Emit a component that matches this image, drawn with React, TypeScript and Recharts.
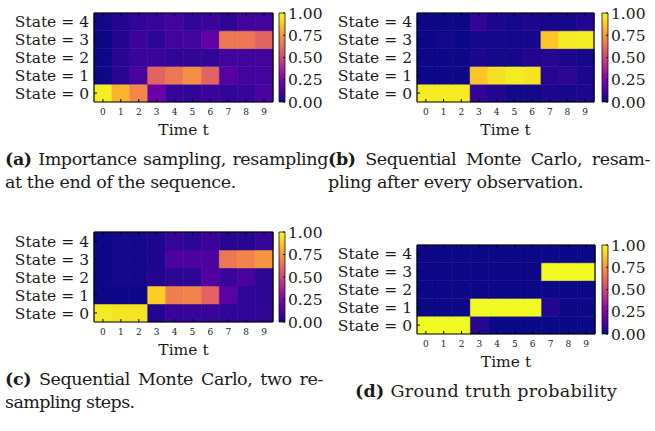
import React from 'react';
import { BarChart, Bar, Cell, XAxis, YAxis } from 'recharts';

// Axis categories and tick labels
const timeSteps = ['0', '1', '2', '3', '4', '5', '6', '7', '8', '9'];
const stateLabels = ['State = 0', 'State = 1', 'State = 2', 'State = 3', 'State = 4'];
const stateTicks = [0.5, 1.5, 2.5, 3.5, 4.5];
const colorbarTicks = [0, 0.25, 0.5, 0.75, 1];

// Posterior probability per cell. Rows are state 0..4, columns are t = 0..9.
const importanceProbs = [
  [0.98, 0.83, 0.71, 0.2, 0.08, 0.07, 0.09, 0.07, 0.08, 0.12],
  [0.0, 0.05, 0.12, 0.6, 0.66, 0.73, 0.6, 0.15, 0.1, 0.1],
  [0.0, 0.05, 0.08, 0.09, 0.07, 0.07, 0.07, 0.1, 0.1, 0.1],
  [0.0, 0.04, 0.09, 0.06, 0.1, 0.1, 0.18, 0.66, 0.66, 0.6],
  [0.01, 0.04, 0.07, 0.08, 0.1, 0.07, 0.09, 0.06, 0.1, 0.1],
];
const smcEveryStepProbs = [
  [0.97, 0.97, 0.97, 0.07, 0.04, 0.01, 0.01, 0.03, 0.02, 0.03],
  [0.0, 0.0, 0.0, 0.88, 0.94, 0.97, 0.95, 0.05, 0.06, 0.03],
  [0.0, 0.0, 0.0, 0.03, 0.02, 0.02, 0.04, 0.05, 0.03, 0.02],
  [0.0, 0.01, 0.0, 0.02, 0.02, 0.02, 0.02, 0.88, 0.97, 0.98],
  [0.0, 0.0, 0.0, 0.07, 0.03, 0.02, 0.03, 0.02, 0.02, 0.04],
];
const smcTwoStepProbs = [
  [0.97, 0.95, 0.95, 0.04, 0.08, 0.08, 0.08, 0.07, 0.07, 0.07],
  [0.0, 0.0, 0.0, 0.9, 0.68, 0.7, 0.6, 0.16, 0.07, 0.06],
  [0.0, 0.02, 0.02, 0.04, 0.06, 0.06, 0.14, 0.08, 0.12, 0.06],
  [0.0, 0.02, 0.02, 0.03, 0.13, 0.13, 0.13, 0.66, 0.7, 0.75],
  [0.0, 0.02, 0.02, 0.03, 0.08, 0.06, 0.09, 0.05, 0.05, 0.08],
];
const groundTruthProbs = [
  [1, 1, 1, 0.05, 0, 0, 0, 0, 0, 0],
  [0, 0, 0, 1, 1, 1, 1, 0.04, 0, 0],
  [0, 0, 0, 0, 0, 0, 0, 0, 0, 0],
  [0, 0, 0, 0, 0, 0, 0, 1, 1, 1],
  [0, 0, 0, 0, 0, 0, 0, 0, 0, 0],
];

// matplotlib "plasma", sampled every 0.1
const plasmaStops = [
  '#0d0887', '#41049d', '#6a00a8', '#8f0da4', '#b12a90', '#cc4778',
  '#e16462', '#f2844b', '#fca636', '#fcce25', '#f0f921',
];

const hexToRgb = (h: string) => [1, 3, 5].map((i) => parseInt(h.slice(i, i + 2), 16));

function plasma(v: number): string {
  const x = Math.max(0, Math.min(1, v)) * 10;
  const i = Math.min(9, Math.floor(x));
  const f = x - i;
  const a = hexToRgb(plasmaStops[i]);
  const b = hexToRgb(plasmaStops[i + 1]);
  const c = a.map((ch, k) => Math.round(ch + (b[k] - ch) * f));
  return `rgb(${c[0]},${c[1]},${c[2]})`;
}

// every cell is one unit tall; its colour carries the probability
const gridRows = timeSteps.map((t) => {
  const row: Record<string, string | number> = { t };
  stateLabels.forEach((_, s) => {
    row[`s${s}`] = 1;
  });
  return row;
});
const colorbarRows = [{ c: 'cb', v: 1 }];

const SERIF = '"DejaVu Serif", serif';
const INK = '#1a1a1a';
const FRAME = { stroke: '#000', strokeWidth: 1.2 };
const labelTick = { fontFamily: SERIF, fontSize: 15.5, fill: INK };
const timeTick = { fontFamily: SERIF, fontSize: 9, fill: INK };
const blank = () => '';

interface HeatmapProps {
  probs: number[][];
  left: number;
  top: number;
  height: number;
  yAxisWidth: number;
  marginTop: number;
  marginRight: number;
}

function Heatmap({ probs, left, top, height, yAxisWidth, marginTop, marginRight }: HeatmapProps) {
  return (
    <div style={{ position: 'absolute', left, top }}>
      <BarChart
        width={330}
        height={height}
        data={gridRows}
        margin={{ top: marginTop, right: marginRight, left: 0, bottom: 0 }}
        barCategoryGap={0}
        barGap={0}
      >
        {stateLabels.map((_, s) => (
          <Bar key={s} dataKey={`s${s}`} stackId="grid" isAnimationActive={false}>
            {timeSteps.map((_, i) => (
              <Cell
                key={i}
                fill={plasma(probs[s][i])}
                stroke={plasma(probs[s][i])}
                strokeWidth={0.5}
              />
            ))}
          </Bar>
        ))}
        <XAxis
          dataKey="t"
          height={38}
          interval={0}
          tickSize={-3}
          tickMargin={10}
          tick={timeTick}
          tickLine={{ stroke: '#000' }}
          axisLine={FRAME}
          label={{
            value: 'Time t',
            position: 'insideBottom',
            offset: 5,
            style: { fontFamily: SERIF, fontSize: 15.5, fill: INK },
          }}
        />
        <XAxis
          xAxisId="top"
          orientation="top"
          dataKey="t"
          height={1}
          interval={0}
          tickSize={-3}
          tickFormatter={blank}
          tickLine={{ stroke: '#000' }}
          axisLine={FRAME}
        />
        <YAxis
          type="number"
          domain={[0, 5]}
          ticks={stateTicks}
          interval={0}
          width={yAxisWidth}
          tickSize={-3}
          tickMargin={8}
          tick={labelTick}
          tickFormatter={(v: number) => stateLabels[Math.floor(v)]}
          tickLine={{ stroke: '#000' }}
          axisLine={FRAME}
        />
        <YAxis
          yAxisId="right"
          orientation="right"
          type="number"
          domain={[0, 5]}
          ticks={stateTicks}
          interval={0}
          width={1}
          tickSize={-3}
          tickFormatter={blank}
          tickLine={{ stroke: '#000' }}
          axisLine={FRAME}
        />
      </BarChart>
    </div>
  );
}

function Colorbar({ id, left, top, plotHeight }: { id: string; left: number; top: number; plotHeight: number }) {
  return (
    <div style={{ position: 'absolute', left, top }}>
      <BarChart
        width={62}
        height={plotHeight + 20}
        data={colorbarRows}
        margin={{ top: 10, right: 0, left: 0, bottom: 10 }}
        barCategoryGap={0}
      >
        <defs>
          <linearGradient id={id} x1="0" y1="1" x2="0" y2="0">
            {plasmaStops.map((c, i) => (
              <stop key={i} offset={`${i * 10}%`} stopColor={c} />
            ))}
          </linearGradient>
        </defs>
        <Bar dataKey="v" fill={`url(#${id})`} stroke="#111" strokeWidth={0.8} isAnimationActive={false} />
        <XAxis dataKey="c" hide />
        <YAxis
          orientation="right"
          type="number"
          domain={[0, 1]}
          ticks={colorbarTicks}
          interval={0}
          width={55}
          tickSize={-2}
          tickMargin={5}
          tick={labelTick}
          tickFormatter={(v: number) => v.toFixed(2)}
          tickLine={{ stroke: '#111' }}
          axisLine={false}
        />
        <YAxis
          yAxisId="inner"
          orientation="left"
          type="number"
          domain={[0, 1]}
          ticks={colorbarTicks}
          interval={0}
          width={1}
          tickSize={-2}
          tickFormatter={blank}
          tickLine={{ stroke: '#111' }}
          axisLine={false}
        />
      </BarChart>
    </div>
  );
}

const caption: React.CSSProperties = {
  position: 'absolute',
  fontFamily: SERIF,
  fontSize: 17.5,
  lineHeight: '23px',
  color: INK,
  whiteSpace: 'nowrap',
  letterSpacing: -0.4,
};

// a full justified line: words spread across the given width
function JustifiedLine({ tag, text, left, top, width }: { tag: string; text: string; left: number; top: number; width: number }) {
  return (
    <div style={{ ...caption, left, top, width, display: 'flex', justifyContent: 'space-between' }}>
      <b>{tag}</b>
      {text.split(' ').map((w, i) => (
        <span key={i}>{w}</span>
      ))}
    </div>
  );
}

export default function App() {
  return (
    <div
      style={{
        position: 'absolute',
        left: 0,
        top: 0,
        width: 655,
        height: 431,
        background: '#fff',
        overflow: 'hidden',
      }}
    >
      <Heatmap probs={importanceProbs} left={0} top={0} height={140} yAxisWidth={94} marginTop={12} marginRight={56} />
      <Colorbar id="cb-a" left={278} top={3} plotHeight={89} />
      <Heatmap probs={smcEveryStepProbs} left={325} top={0} height={140} yAxisWidth={92} marginTop={12} marginRight={60} />
      <Colorbar id="cb-b" left={601} top={3} plotHeight={89} />
      <Heatmap probs={smcTwoStepProbs} left={0} top={225} height={135} yAxisWidth={94} marginTop={6} marginRight={56} />
      <Colorbar id="cb-c" left={278} top={222} plotHeight={90} />
      <Heatmap probs={groundTruthProbs} left={325} top={225} height={147} yAxisWidth={92} marginTop={19} marginRight={59} />
      <Colorbar id="cb-d" left={601} top={235} plotHeight={89} />

      <JustifiedLine tag="(a)" text="Importance sampling, resampling" left={5} top={148} width={323} />
      <div style={{ ...caption, left: 5, top: 171 }}>at the end of the sequence.</div>
      <JustifiedLine tag="(b)" text="Sequential Monte Carlo, resam-" left={328} top={148} width={322} />
      <div style={{ ...caption, left: 328, top: 171, letterSpacing: -0.25 }}>pling after every observation.</div>

      <JustifiedLine tag="(c)" text="Sequential Monte Carlo, two re-" left={5} top={368} width={318} />
      <div style={{ ...caption, left: 5, top: 391, letterSpacing: -0.6 }}>sampling steps.</div>
      <div style={{ ...caption, left: 355, top: 380, letterSpacing: 0.3 }}>
        <b>(d)</b> Ground truth probability
      </div>
    </div>
  );
}
